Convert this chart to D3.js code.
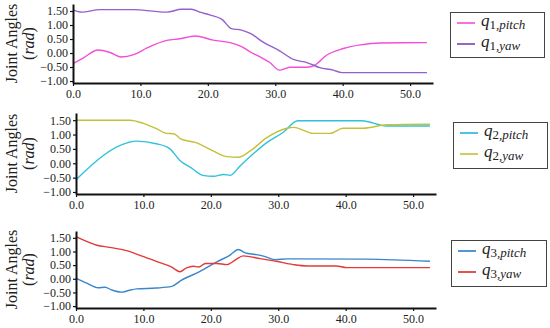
<!DOCTYPE html>
<html><head><meta charset="utf-8">
<script src="https://cdn.jsdelivr.net/npm/d3@7"></script>
<style>
html,body{margin:0;padding:0;background:#fff;}
svg{display:block;}
</style></head>
<body><svg id="c" width="550" height="328"></svg>
<script>
// ---- data ----
const xTicks = [0, 10, 20, 30, 40, 50];
const yTicks = [-1, -0.5, 0, 0.5, 1, 1.5];

const q1PitchT = [0, 1.5, 3.7, 5.5, 7.2, 9, 11, 13.9, 15.9, 18.1, 20.8, 23.3, 25.0, 26.5, 27.7, 29.2, 30.6, 31.2, 32.2, 34.7, 35.9, 37.6, 40.1, 42.6, 45.5, 52.5];
const q1PitchV = [-0.38, -0.18, 0.11, 0.02, -0.14, -0.06, 0.18, 0.45, 0.51, 0.61, 0.46, 0.37, 0.23, 0.01, -0.13, -0.34, -0.61, -0.58, -0.51, -0.51, -0.43, -0.08, 0.16, 0.29, 0.36, 0.37];
const q1YawT = [0, 1.3, 4, 8.9, 13.9, 16.1, 17.6, 18.8, 20.3, 22.1, 23.5, 25.0, 26.3, 28.2, 30.7, 32.7, 34.7, 36.6, 38.6, 39.9, 52.5];
const q1YawV = [1.54, 1.46, 1.55, 1.55, 1.46, 1.56, 1.56, 1.46, 1.36, 1.20, 0.87, 0.82, 0.70, 0.39, 0.07, -0.23, -0.34, -0.52, -0.61, -0.70, -0.70];

const q2PitchT = [0, 7.7, 9.0, 11.9, 13.9, 15.4, 17.1, 18.8, 20.4, 21.9, 22.9, 24.3, 26.3, 28.3, 30.7, 32.9, 42.4, 46.1, 52.5];
const q2PitchV = [-0.57, 0.72, 0.77, 0.68, 0.51, 0.10, -0.16, -0.42, -0.45, -0.39, -0.42, -0.10, 0.33, 0.72, 1.07, 1.48, 1.48, 1.30, 1.30];
const q2YawT = [0, 8.0, 10, 12, 13.4, 14.5, 15.3, 15.6, 17.8, 20.4, 22.4, 24.1, 25.8, 28.3, 31.3, 32.3, 35.2, 37.7, 39.6, 42.6, 46.1, 52.5];
const q2YawV = [1.50, 1.50, 1.39, 1.20, 1.04, 1.03, 0.89, 0.84, 0.72, 0.42, 0.23, 0.21, 0.42, 0.89, 1.22, 1.25, 1.04, 1.04, 1.22, 1.22, 1.34, 1.36];

const q3PitchT = [0, 1.6, 3.3, 4.3, 5.3, 6.8, 7.8, 9.0, 11.9, 14.2, 15.6, 18.4, 20.9, 22.8, 24.1, 25.1, 26.6, 27.8, 29.5, 31.3, 43.1, 52.5];
const q3PitchV = [0.03, -0.16, -0.33, -0.31, -0.41, -0.49, -0.43, -0.37, -0.34, -0.28, -0.06, 0.27, 0.62, 0.86, 1.07, 0.95, 0.89, 0.83, 0.70, 0.73, 0.72, 0.64];
const q3YawT = [0, 3.1, 5.0, 7.5, 9.5, 11.9, 14.2, 15.4, 16.4, 17.4, 18.2, 19.2, 20.9, 22.4, 23.6, 24.8, 27.3, 29.7, 32.2, 34.2, 38.6, 40.1, 52.5];
const q3YawV = [1.54, 1.23, 1.15, 1.03, 0.86, 0.64, 0.43, 0.26, 0.40, 0.46, 0.43, 0.56, 0.56, 0.52, 0.68, 0.84, 0.74, 0.64, 0.52, 0.47, 0.47, 0.41, 0.41];

const panelJoints = ["1", "2", "3"];
const seriesNames = ["pitch", "yaw"];

// ---- layout / style ----
const panels = [
  {joint: panelJoints[0], x0: 73, x1: 433, yb: 83, yt: 4, leg: [450, 12, 94, 45],
   series: [{t: q1PitchT, v: q1PitchV, c: "#f04fd6", lc: "#f04fd6", n: seriesNames[0]},
            {t: q1YawT, v: q1YawV, c: "#9360cc", lc: "#7a3fb8", n: seriesNames[1]}]},
  {joint: panelJoints[1], x0: 76, x1: 436, yb: 194, yt: 113, leg: [453, 122, 94, 46],
   series: [{t: q2PitchT, v: q2PitchV, c: "#2fc2dc", lc: "#22b4e4", n: seriesNames[0]},
            {t: q2YawT, v: q2YawV, c: "#c4c03a", lc: "#c4c03a", n: seriesNames[1]}]},
  {joint: panelJoints[2], x0: 76, x1: 436, yb: 308, yt: 231, leg: [451, 240, 95, 46],
   series: [{t: q3PitchT, v: q3PitchV, c: "#3a86ca", lc: "#2a7ad0", n: seriesNames[0]},
            {t: q3YawT, v: q3YawV, c: "#e23a3a", lc: "#d82828", n: seriesNames[1]}]}
];

const svg = d3.select("#c");
const serif = "Liberation Serif";

panels.forEach(p => {
  const x = d3.scaleLinear().domain([0, 53.4]).range([p.x0, p.x1]);
  const y = d3.scaleLinear().domain([-1.07, 1.75]).range([p.yb, p.yt]);
  const g = svg.append("g");

  p.series.forEach(s => {
    const pts = s.t.map((t, i) => [t, s.v[i]]);
    g.append("path").datum(pts)
      .attr("fill", "none").attr("stroke", s.c).attr("stroke-width", 1.4)
      .attr("stroke-linejoin", "round")
      .attr("d", d3.line().x(d => x(d[0])).y(d => y(d[1])).curve(d3.curveMonotoneX));
  });

  const ya = g.append("g").attr("transform", `translate(${p.x0},0)`)
    .call(d3.axisLeft(y).tickValues(yTicks).tickFormat(d3.format(".2f")).tickSize(3).tickSizeOuter(0))
    .attr("font-family", serif).attr("font-size", 12);
  ya.select(".domain").attr("stroke", "#111").attr("stroke-width", 2);
  ya.selectAll(".tick line").attr("stroke", "#111").attr("stroke-width", 1.2);
  ya.selectAll(".tick text").attr("x", -5).attr("fill", "#222");

  const xa = g.append("g").attr("transform", `translate(0,${p.yb})`)
    .call(d3.axisBottom(x).tickValues(xTicks).tickFormat(d3.format(".1f")).tickSize(3).tickSizeOuter(0))
    .attr("font-family", serif).attr("font-size", 12);
  xa.select(".domain").attr("stroke", "#111").attr("stroke-width", 2);
  xa.selectAll(".tick line").attr("stroke", "#111").attr("stroke-width", 1.2);
  xa.selectAll(".tick text").attr("y", 6).attr("fill", "#222");

  // y title
  const cy = (p.yb + p.yt) / 2;
  svg.append("text").attr("transform", `translate(17,${cy}) rotate(-90)`)
    .attr("text-anchor", "middle").attr("font-family", serif).attr("font-size", 16).attr("fill", "#222")
    .text("Joint Angles");
  const t2 = svg.append("text").attr("transform", `translate(34,${cy}) rotate(-90)`)
    .attr("text-anchor", "middle").attr("font-family", serif).attr("font-size", 16).attr("fill", "#222");
  t2.append("tspan").text("(");
  t2.append("tspan").attr("font-style", "italic").text("rad");
  t2.append("tspan").text(")");

  // legend
  const [lx, ly, lw, lh] = p.leg;
  const lg = svg.append("g");
  lg.append("rect").attr("x", lx + 0.5).attr("y", ly + 0.5).attr("width", lw).attr("height", lh)
    .attr("fill", "#fff").attr("stroke", "#444").attr("stroke-width", 1);
  p.series.forEach((s, i) => {
    const yy = ly + 11 + i * 21;
    lg.append("line").attr("x1", lx + 7).attr("x2", lx + 25).attr("y1", yy).attr("y2", yy)
      .attr("stroke", s.lc).attr("stroke-width", 1.6);
    const tx = lg.append("text").attr("x", lx + 31).attr("y", yy + 3)
      .attr("font-family", serif).attr("font-style", "italic").attr("fill", "#222").attr("font-size", 17);
    tx.append("tspan").text("q");
    tx.append("tspan").attr("font-size", 13).attr("dy", 3).attr("font-style", "normal").text(p.joint);
    tx.append("tspan").attr("font-size", 13).text(",");
    tx.append("tspan").attr("font-size", 13).text(s.n);
  });
});
</script></body></html>
